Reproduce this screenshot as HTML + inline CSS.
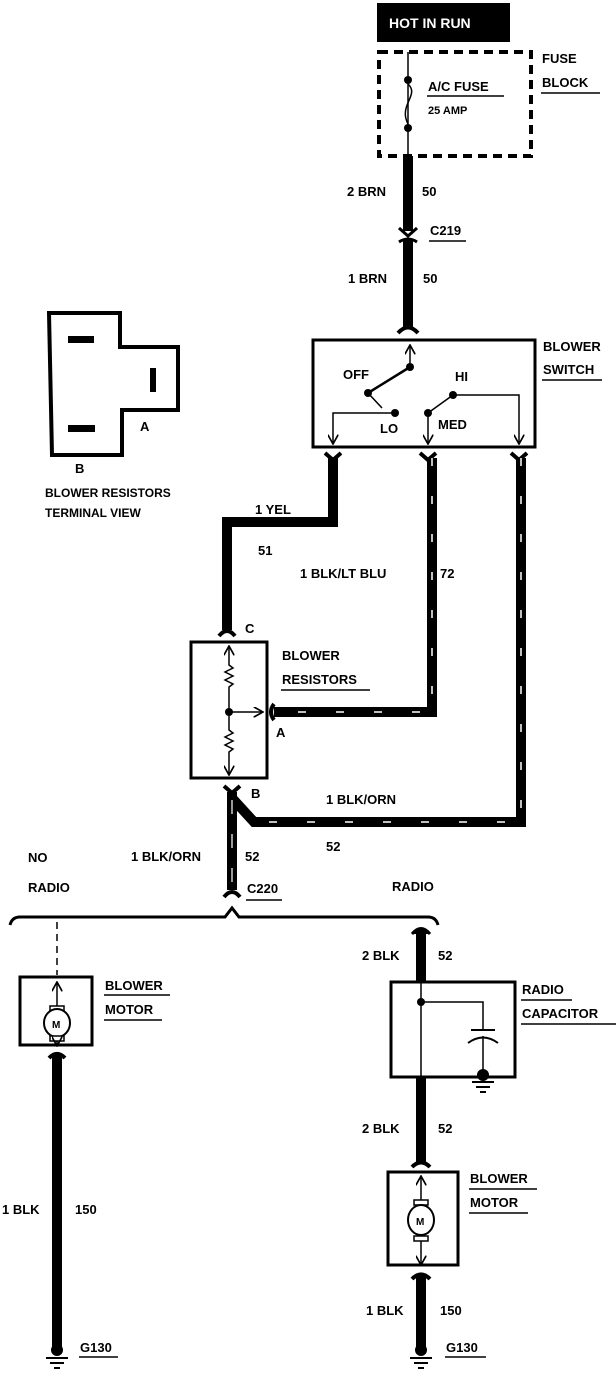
<!DOCTYPE html>
<html><head><meta charset="utf-8"><style>
html,body{margin:0;padding:0;background:#fff}
svg{display:block}
text{font-family:"Liberation Sans",sans-serif;font-weight:bold;font-size:13px;fill:#000}
</style></head><body>
<svg width="616" height="1392" viewBox="0 0 616 1392" xmlns="http://www.w3.org/2000/svg">
<defs>
<marker id="ah" viewBox="0 0 10 10" refX="9" refY="5" markerWidth="7" markerHeight="7" orient="auto"><path d="M0,0 L9,5 L0,10" fill="none" stroke="#000" stroke-width="1.6"/></marker>
</defs>
<!-- HOT IN RUN -->
<rect x="377" y="3" width="133" height="39" fill="#000"/>
<text x="389" y="28" style="fill:#fff;font-size:14px">HOT IN RUN</text>
<!-- fuse block -->
<rect x="379" y="52" width="152" height="104" fill="none" stroke="#000" stroke-width="4" stroke-dasharray="9,6"/>
<line x1="408" y1="52" x2="408" y2="156" stroke="#000" stroke-width="1.5"/>
<circle cx="408" cy="80" r="4"/><circle cx="408" cy="128" r="4"/>
<path d="M408,84 C420,95 398,105 408,124" fill="none" stroke="#000" stroke-width="1.5" style="fill:none"/>
<text x="428" y="91">A/C FUSE</text><line x1="427" y1="96" x2="504" y2="96" stroke="#000" stroke-width="1.5"/>
<text x="428" y="114" style="font-size:11px">25 AMP</text>
<text x="542" y="63">FUSE</text><text x="542" y="87">BLOCK</text>
<line x1="541" y1="93" x2="600" y2="93" stroke="#000" stroke-width="1.5"/>
<!-- brn wire -->
<rect x="403" y="156" width="10" height="75" />
<path d="M399,228 L408,236 L417,228" fill="none" stroke="#000" stroke-width="3"/>
<path d="M399,242 Q408,236 417,242" fill="none" stroke="#000" stroke-width="3"/>
<rect x="403" y="240" width="10" height="88"/>
<path d="M398,333 Q408,322 418,333" fill="none" stroke="#000" stroke-width="4"/>
<text x="347" y="196">2 BRN</text><text x="422" y="196">50</text>
<text x="430" y="235">C219</text><line x1="429" y1="241" x2="466" y2="241" stroke="#000" stroke-width="1.5"/>
<text x="348" y="283">1 BRN</text><text x="423" y="283">50</text>
<!-- blower switch -->
<rect x="313" y="340" width="222" height="107" fill="none" stroke="#000" stroke-width="3"/>
<text x="543" y="351">BLOWER</text><text x="543" y="374">SWITCH</text>
<line x1="542" y1="380" x2="602" y2="380" stroke="#000" stroke-width="1.5"/>
<line x1="410" y1="367" x2="410" y2="345" stroke="#000" stroke-width="1.5" marker-end="url(#ah)"/>
<circle cx="410" cy="367" r="4"/><circle cx="368" cy="393" r="4"/>
<line x1="368" y1="393" x2="410" y2="367" stroke="#000" stroke-width="2.5"/>
<line x1="368" y1="393" x2="382" y2="408" stroke="#000" stroke-width="1.5"/>
<circle cx="395" cy="413" r="4"/><circle cx="428" cy="413" r="4"/><circle cx="453" cy="395" r="4"/>
<line x1="428" y1="413" x2="453" y2="395" stroke="#000" stroke-width="1.5"/>
<polyline points="395,413 333,413 333,444" fill="none" stroke="#000" stroke-width="1.5" marker-end="url(#ah)"/>
<line x1="428" y1="413" x2="428" y2="444" stroke="#000" stroke-width="1.5" marker-end="url(#ah)"/>
<polyline points="453,395 519,395 519,444" fill="none" stroke="#000" stroke-width="1.5" marker-end="url(#ah)"/>
<text x="343" y="379">OFF</text><text x="455" y="381">HI</text>
<text x="380" y="433">LO</text><text x="438" y="429">MED</text>
<!-- connectors below switch -->
<path d="M325,453 L333,460 L341,453" fill="none" stroke="#000" stroke-width="4"/>
<path d="M420,453 L428,460 L436,453" fill="none" stroke="#000" stroke-width="4"/>
<path d="M511,453 L519,460 L527,453" fill="none" stroke="#000" stroke-width="4"/>
<!-- YEL wire -->
<polyline points="333,458 333,522 227,522 227,630" fill="none" stroke="#000" stroke-width="10"/>
<text x="255" y="514">1 YEL</text><text x="258" y="555">51</text>
<!-- BLK/LT BLU wire -->
<polyline points="432,458 432,712 274,712" fill="none" stroke="#000" stroke-width="10"/>
<polyline points="432,458 432,712 274,712" fill="none" stroke="#fff" stroke-width="1.5" stroke-dasharray="8,30"/>
<text x="300" y="578">1 BLK/LT BLU</text><text x="440" y="578">72</text>
<!-- BLK/ORN wire from switch -->
<polyline points="521,458 521,822 254,822 232,798" fill="none" stroke="#000" stroke-width="10"/>
<polyline points="521,458 521,822 254,822" fill="none" stroke="#fff" stroke-width="1.5" stroke-dasharray="8,30"/>
<text x="326" y="804">1 BLK/ORN</text><text x="326" y="851">52</text>
<!-- resistors -->
<path d="M219,636 Q227,626 235,636" fill="none" stroke="#000" stroke-width="4"/>
<text x="245" y="633">C</text>
<rect x="191" y="642" width="76" height="136" fill="none" stroke="#000" stroke-width="3"/>
<line x1="229" y1="660" x2="229" y2="646" stroke="#000" stroke-width="1.5" marker-end="url(#ah)"/>
<polyline points="229,660 229,665 233,668 225,672 233,676 225,680 233,684 229,687 229,712" fill="none" stroke="#000" stroke-width="1.5"/>
<circle cx="229" cy="712" r="4"/>
<line x1="229" y1="712" x2="263" y2="712" stroke="#000" stroke-width="1.5" marker-end="url(#ah)"/>
<polyline points="229,712 229,730 233,733 225,737 233,741 225,745 233,749 229,752 229,775" fill="none" stroke="#000" stroke-width="1.5" marker-end="url(#ah)"/>
<path d="M274,704 Q268,712 274,720" fill="none" stroke="#000" stroke-width="4"/>
<text x="276" y="737">A</text>
<text x="282" y="660">BLOWER</text><text x="282" y="684">RESISTORS</text>
<line x1="281" y1="690" x2="370" y2="690" stroke="#000" stroke-width="1.5"/>
<path d="M224,786 L232,793 L240,786" fill="none" stroke="#000" stroke-width="4"/>
<text x="251" y="798">B</text>
<line x1="232" y1="792" x2="232" y2="890" stroke="#000" stroke-width="10"/>
<line x1="232" y1="800" x2="232" y2="885" stroke="#fff" stroke-width="1.2" stroke-dasharray="14,20"/>
<path d="M224,897 Q232,887 240,897" fill="none" stroke="#000" stroke-width="4"/>
<text x="131" y="861">1 BLK/ORN</text><text x="245" y="861">52</text>
<text x="247" y="893">C220</text><line x1="246" y1="900" x2="282" y2="900" stroke="#000" stroke-width="1.5"/>
<text x="28" y="862">NO</text><text x="28" y="892">RADIO</text><text x="392" y="891">RADIO</text>
<!-- brace -->
<path d="M10,925 Q12,917 20,917 L225,917 L232,908 L239,917 L428,917 Q436,917 438,925" fill="none" stroke="#000" stroke-width="3"/>
<!-- left branch -->
<line x1="57" y1="922" x2="57" y2="975" stroke="#000" stroke-width="1.5" stroke-dasharray="7,5"/>
<rect x="20" y="977" width="72" height="68" fill="none" stroke="#000" stroke-width="3"/>
<line x1="57" y1="1008" x2="57" y2="982" stroke="#000" stroke-width="1.5" marker-end="url(#ah)"/>
<rect x="50" y="1006" width="14" height="5" fill="#fff" stroke="#000" stroke-width="1.5"/>
<ellipse cx="57" cy="1023" rx="13" ry="14" fill="#fff" stroke="#000" stroke-width="2"/>
<text x="52" y="1028" style="font-size:10px">M</text>
<rect x="50" y="1036" width="14" height="5" fill="#fff" stroke="#000" stroke-width="1.5"/>
<line x1="57" y1="1041" x2="57" y2="1046" stroke="#000" stroke-width="1.5" marker-end="url(#ah)"/>
<text x="105" y="990">BLOWER</text><line x1="104" y1="995" x2="170" y2="995" stroke="#000" stroke-width="1.5"/>
<text x="105" y="1014">MOTOR</text><line x1="104" y1="1020" x2="162" y2="1020" stroke="#000" stroke-width="1.5"/>
<path d="M49,1058 Q57,1050 65,1058" fill="none" stroke="#000" stroke-width="4"/>
<line x1="57" y1="1054" x2="57" y2="1352" stroke="#000" stroke-width="10"/>
<circle cx="57" cy="1350" r="6"/>
<line x1="46" y1="1358" x2="68" y2="1358" stroke="#000" stroke-width="2"/>
<line x1="50" y1="1363" x2="64" y2="1363" stroke="#000" stroke-width="2"/>
<line x1="54" y1="1368" x2="60" y2="1368" stroke="#000" stroke-width="2"/>
<text x="2" y="1214">1 BLK</text><text x="75" y="1214">150</text>
<text x="80" y="1352">G130</text><line x1="79" y1="1357" x2="118" y2="1357" stroke="#000" stroke-width="1.5"/>
<!-- right branch -->
<line x1="421" y1="932" x2="421" y2="982" stroke="#000" stroke-width="10"/>
<path d="M412,934 Q421,923 430,934" fill="#000" stroke="#000" stroke-width="3"/>
<text x="362" y="960">2 BLK</text><text x="438" y="960">52</text>
<rect x="391" y="982" width="124" height="95" fill="none" stroke="#000" stroke-width="3"/>
<line x1="421" y1="982" x2="421" y2="1077" stroke="#000" stroke-width="1.5"/>
<circle cx="421" cy="1002" r="4"/>
<polyline points="421,1002 483,1002 483,1030" fill="none" stroke="#000" stroke-width="1.5"/>
<line x1="471" y1="1030" x2="495" y2="1030" stroke="#000" stroke-width="2"/>
<path d="M468,1043 Q483,1032 498,1043" fill="none" stroke="#000" stroke-width="2"/>
<line x1="483" y1="1036" x2="483" y2="1072" stroke="#000" stroke-width="1.5"/>
<circle cx="483" cy="1075" r="6"/>
<line x1="472" y1="1082" x2="494" y2="1082" stroke="#000" stroke-width="2"/>
<line x1="476" y1="1087" x2="490" y2="1087" stroke="#000" stroke-width="2"/>
<line x1="480" y1="1092" x2="486" y2="1092" stroke="#000" stroke-width="2"/>
<text x="522" y="994">RADIO</text><line x1="521" y1="1000" x2="572" y2="1000" stroke="#000" stroke-width="1.5"/>
<text x="522" y="1018">CAPACITOR</text><line x1="521" y1="1024" x2="616" y2="1024" stroke="#000" stroke-width="1.5"/>
<line x1="421" y1="1077" x2="421" y2="1163" stroke="#000" stroke-width="10"/>
<path d="M412,1167 Q421,1158 430,1167" fill="none" stroke="#000" stroke-width="4"/>
<text x="362" y="1133">2 BLK</text><text x="438" y="1133">52</text>
<rect x="388" y="1172" width="70" height="93" fill="none" stroke="#000" stroke-width="3"/>
<line x1="421" y1="1200" x2="421" y2="1176" stroke="#000" stroke-width="1.5" marker-end="url(#ah)"/>
<rect x="414" y="1200" width="14" height="5" fill="#fff" stroke="#000" stroke-width="1.5"/>
<ellipse cx="421" cy="1220" rx="13" ry="15" fill="#fff" stroke="#000" stroke-width="2"/>
<text x="416" y="1225" style="font-size:10px">M</text>
<rect x="414" y="1236" width="14" height="5" fill="#fff" stroke="#000" stroke-width="1.5"/>
<line x1="421" y1="1241" x2="421" y2="1265" stroke="#000" stroke-width="1.5" marker-end="url(#ah)"/>
<text x="470" y="1183">BLOWER</text><line x1="469" y1="1189" x2="537" y2="1189" stroke="#000" stroke-width="1.5"/>
<text x="470" y="1207">MOTOR</text><line x1="469" y1="1213" x2="528" y2="1213" stroke="#000" stroke-width="1.5"/>
<path d="M412,1279 Q421,1270 430,1279" fill="none" stroke="#000" stroke-width="4"/>
<line x1="421" y1="1275" x2="421" y2="1350" stroke="#000" stroke-width="10"/>
<circle cx="421" cy="1350" r="6"/>
<line x1="410" y1="1358" x2="432" y2="1358" stroke="#000" stroke-width="2"/>
<line x1="414" y1="1363" x2="428" y2="1363" stroke="#000" stroke-width="2"/>
<line x1="418" y1="1368" x2="424" y2="1368" stroke="#000" stroke-width="2"/>
<text x="366" y="1315">1 BLK</text><text x="440" y="1315">150</text>
<text x="446" y="1352">G130</text><line x1="445" y1="1357" x2="486" y2="1357" stroke="#000" stroke-width="1.5"/>
<!-- terminal view -->
<polygon points="49,313 120,313 120,347 178,347 178,410 122,410 122,455 52,455" fill="none" stroke="#000" stroke-width="4"/>
<rect x="68" y="336" width="26" height="7"/>
<rect x="150" y="368" width="6" height="24"/>
<rect x="68" y="425" width="27" height="7"/>
<text x="140" y="431">A</text><text x="75" y="473">B</text>
<text x="45" y="497" style="font-size:12px">BLOWER RESISTORS</text>
<text x="45" y="517" style="font-size:12px">TERMINAL VIEW</text>
</svg>
</body></html>
